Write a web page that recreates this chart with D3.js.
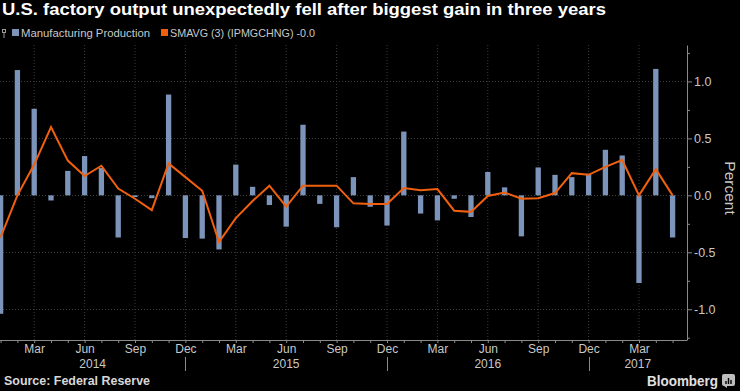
<!DOCTYPE html>
<html>
<head>
<meta charset="utf-8">
<script src="https://cdn.jsdelivr.net/npm/d3@7"></script>
<style>
  html, body { margin: 0; padding: 0; background: #000; }
  svg { display: block; }
</style>
</head>
<body>
<div id="chart"></div>
<script>
// ---------------- DATA ----------------
const monthStart = new Date(2014, 0, 1);
const monthEnd = new Date(2017, 5, 1);
const months = d3.timeMonth.range(monthStart, monthEnd); // Jan 2014 .. May 2017

const production = [
  -1.04, 1.10, 0.76, -0.045, 0.215, 0.345, 0.24, -0.37, -0.015, -0.025, 0.885, -0.375,
  -0.38, -0.475, 0.27, 0.075, -0.085, -0.275, 0.62, -0.075, -0.28, 0.16, -0.10, -0.265,
  0.56, -0.16, -0.22, -0.03, -0.19, 0.205, 0.07, -0.36, 0.245, 0.18, 0.16, 0.19,
  0.40, 0.35, -0.77, 1.11, -0.37
];

const smavg = [
  -0.37, 0.00, 0.27, 0.60, 0.305, 0.17, 0.26, 0.06, -0.03, -0.13, 0.28, 0.16,
  0.04, -0.41, -0.20, -0.05, 0.085, -0.10, 0.085, 0.085, 0.085, -0.07, -0.075, -0.075,
  0.065, 0.045, 0.055, -0.135, -0.145, -0.005, 0.025, -0.03, -0.025, 0.02, 0.195, 0.18,
  0.25, 0.31, 0.00, 0.23, 0.00
];

const yMajorTicks = [-1.0, -0.5, 0.0, 0.5, 1.0];
const yMinorTicks = [-1.25, -0.75, -0.25, 0.25, 0.75, 1.25];
const labelMonths = [2, 5, 8, 11]; // Mar, Jun, Sep, Dec

const titleText = "U.S. factory output unexpectedly fell after biggest gain in three years";
const legendItems = ["Manufacturing Production", "SMAVG (3) (IPMGCHNG) -0.0"];
const sourceText = "Source: Federal Reserve";
const yLabel = "Percent";

// ---------------- LAYOUT ----------------
const W = 740, H = 391;
const plotLeft = 0, plotRight = 687, plotTop = 45, plotBottom = 340;
const barColor = "#7c94b9";
const lineColor = "#f0600f";
const gridColor = "#3c3c3c";
const axisColor = "#8a8a8a";
const textColor = "#c8c8c8";
const font = "'Liberation Sans', Arial, sans-serif";

const svg = d3.select("#chart").append("svg")
  .attr("width", W).attr("height", H)
  .style("background", "#000");

const x = d3.scalePoint().domain(months).range([0.6, 672.6]);
const y = d3.scaleLinear().domain([-1.27, 1.32]).range([plotBottom, plotTop]);

const data = months.map((m, i) => ({ m, v: production[i], s: smavg[i] }));

// ---------------- GRID ----------------
const gridMonths = months.filter(m => labelMonths.includes(m.getMonth()));
svg.append("g").selectAll("line").data(gridMonths).join("line")
  .attr("x1", d => x(d)).attr("x2", d => x(d))
  .attr("y1", plotTop).attr("y2", plotBottom)
  .attr("stroke", gridColor).attr("stroke-width", 1)
  .attr("stroke-dasharray", "1,2");

svg.append("g").selectAll("line").data(yMajorTicks).join("line")
  .attr("x1", plotLeft).attr("x2", plotRight)
  .attr("y1", d => Math.round(y(d)) + 0.5).attr("y2", d => Math.round(y(d)) + 0.5)
  .attr("stroke", gridColor).attr("stroke-width", 1)
  .attr("stroke-dasharray", "1,2");

// ---------------- BARS ----------------
const barW = 5.3;
svg.append("g").selectAll("rect").data(data).join("rect")
  .attr("x", d => x(d.m) - barW / 2)
  .attr("width", barW)
  .attr("y", d => Math.min(y(d.v), y(0)))
  .attr("height", d => Math.abs(y(d.v) - y(0)))
  .attr("fill", barColor);

// ---------------- LINE ----------------
const line = d3.line().x(d => x(d.m)).y(d => y(d.s));
svg.append("path").datum(data)
  .attr("d", line)
  .attr("fill", "none")
  .attr("stroke", lineColor)
  .attr("stroke-width", 2)
  .attr("stroke-linejoin", "miter");

// ---------------- Y AXIS ----------------
const yAxisG = svg.append("g").attr("transform", `translate(${plotRight},0)`);
yAxisG.call(d3.axisRight(y).tickValues(yMajorTicks).tickSize(5).tickSizeOuter(0)
  .tickPadding(2).tickFormat(d => d.toFixed(1)));
yAxisG.select(".domain").attr("stroke", axisColor);
yAxisG.selectAll(".tick line").attr("stroke", axisColor);
yAxisG.selectAll(".tick text").attr("fill", textColor)
  .style("font-family", font).style("font-size", "12.5px");

const yMinorG = svg.append("g").attr("transform", `translate(${plotRight},0)`);
yMinorG.call(d3.axisRight(y).tickValues(yMinorTicks).tickSize(3).tickFormat(""));
yMinorG.select(".domain").remove();
yMinorG.selectAll(".tick line").attr("stroke", axisColor);

svg.append("text")
  .attr("transform", `translate(725,188) rotate(90)`)
  .attr("text-anchor", "middle")
  .attr("fill", textColor)
  .style("font-family", font).style("font-size", "15.5px")
  .text(yLabel);

// ---------------- X AXIS ----------------
svg.append("line")
  .attr("x1", plotLeft).attr("x2", plotRight)
  .attr("y1", plotBottom + 0.5).attr("y2", plotBottom + 0.5)
  .attr("stroke", axisColor);

const xTickG = svg.append("g").attr("transform", `translate(0,${plotBottom})`);
xTickG.call(d3.axisBottom(x).tickSize(3).tickFormat(""));
xTickG.select(".domain").remove();
xTickG.selectAll(".tick line").attr("stroke", axisColor);

const xLabelG = svg.append("g").attr("transform", `translate(0,${plotBottom})`);
xLabelG.call(d3.axisBottom(x).tickValues(gridMonths).tickSize(0).tickPadding(4)
  .tickFormat(d3.timeFormat("%b")));
xLabelG.select(".domain").remove();
xLabelG.selectAll(".tick text").attr("fill", textColor)
  .style("font-family", font).style("font-size", "12px");

// year separators at December, year labels centred between them
const decMonths = months.filter(m => m.getMonth() === 11);
svg.append("g").selectAll("line").data(decMonths).join("line")
  .attr("x1", d => Math.round(x(d)) + 0.5).attr("x2", d => Math.round(x(d)) + 0.5)
  .attr("y1", 357).attr("y2", 371)
  .attr("stroke", axisColor);

const years = Array.from(new Set(months.map(m => m.getFullYear())));
const bounds = [plotLeft, ...decMonths.map(d => x(d)), plotRight];
svg.append("g").selectAll("text").data(years).join("text")
  .attr("x", (d, i) => (bounds[i] + bounds[i + 1]) / 2)
  .attr("y", 368)
  .attr("text-anchor", "middle")
  .attr("fill", textColor)
  .style("font-family", font).style("font-size", "12px")
  .text(d => d);

// ---------------- TITLE ----------------
svg.append("text")
  .attr("x", 2).attr("y", 15)
  .attr("fill", "#ffffff")
  .attr("textLength", 604).attr("lengthAdjust", "spacingAndGlyphs")
  .style("font-family", font).style("font-size", "16px").style("font-weight", "bold")
  .text(titleText);

// ---------------- LEGEND ----------------
const lg = svg.append("g");
// small chart glyph
lg.append("rect").attr("x", 2.5).attr("y", 29.5).attr("width", 3).attr("height", 3)
  .attr("fill", "none").attr("stroke", "#9a9a9a").attr("stroke-width", 1);
lg.append("line").attr("x1", 4).attr("x2", 4).attr("y1", 33).attr("y2", 38)
  .attr("stroke", "#9a9a9a").attr("stroke-width", 1);

const legendX = [12, 161];
const legendW = [129, 145];
const legendColors = [barColor, lineColor];
legendItems.forEach((t, i) => {
  lg.append("rect").attr("x", legendX[i]).attr("y", 29).attr("width", 7).attr("height", 7)
    .attr("fill", legendColors[i]);
  lg.append("text").attr("x", legendX[i] + 9).attr("y", 36.5)
    .attr("fill", textColor)
    .attr("textLength", legendW[i]).attr("lengthAdjust", "spacingAndGlyphs")
    .style("font-family", font).style("font-size", "11.5px")
    .text(t);
});

// ---------------- FOOTER ----------------
svg.append("text")
  .attr("x", 4).attr("y", 385)
  .attr("fill", "#d8d8d8")
  .attr("textLength", 146).attr("lengthAdjust", "spacingAndGlyphs")
  .style("font-family", font).style("font-size", "12px").style("font-weight", "bold")
  .text(sourceText);

svg.append("text")
  .attr("x", 647).attr("y", 385.5)
  .attr("fill", "#e0e0e0")
  .attr("textLength", 71).attr("lengthAdjust", "spacingAndGlyphs")
  .style("font-family", font).style("font-size", "15px").style("font-weight", "bold")
  .text("Bloomberg");

const logo = svg.append("g").attr("transform", "translate(722,374)");
logo.append("rect").attr("width", 13).attr("height", 12).attr("rx", 2).attr("fill", "#bdbdbd");
logo.append("path").attr("d", "M4,10 L4,7 M6.5,10 L6.5,4 M9,10 L9,6").attr("stroke", "#000").attr("stroke-width", 1.4);
logo.append("path").attr("d", "M2,12 L5,14 L5,12 Z").attr("fill", "#bdbdbd");
</script>
</body>
</html>
